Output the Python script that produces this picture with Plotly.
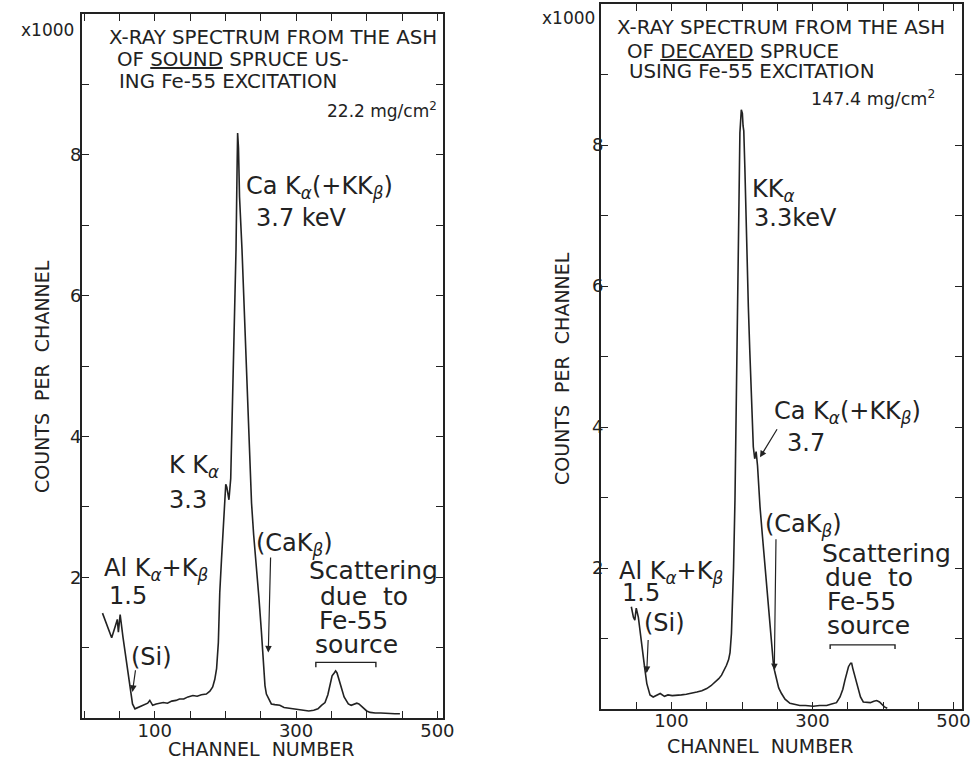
import plotly.graph_objects as go

# ---------------- data (counts in thousands) ----------------
ch_sound = [26, 33, 39, 44, 47, 48.5, 51, 55, 60, 65, 68.5, 72, 77, 80, 85, 90, 93, 97, 102, 107,
            112, 118, 124, 130, 135, 141, 147, 154, 160, 166, 173, 178, 182, 185, 187.5, 190, 192,
            194.5, 197, 199, 200.5, 202, 203.5, 205, 207.5, 211, 213, 215, 216.5, 217.3, 218.5,
            220, 223.5, 227, 231, 234, 237, 240, 244, 247.5, 251, 254, 256, 258, 261, 265, 270,
            277, 283, 290, 297, 304, 311, 318, 325, 331, 336, 341, 345, 348, 351, 354, 356, 358,
            360, 362, 365, 368, 371, 374, 378, 382, 386, 389, 392, 396, 400, 405, 412, 420, 430,
            440, 447]
cnt_sound = [1.49, 1.30, 1.14, 1.30, 1.40, 1.22, 1.47, 1.15, 0.80, 0.43, 0.20, 0.13, 0.15, 0.17,
             0.18, 0.21, 0.25, 0.18, 0.20, 0.21, 0.22, 0.21, 0.24, 0.25, 0.27, 0.27, 0.30, 0.32,
             0.31, 0.33, 0.34, 0.38, 0.44, 0.55, 0.70, 1.07, 1.78, 2.26, 2.75, 3.05, 3.32, 3.28,
             3.18, 3.10, 3.40, 4.80, 5.70, 6.65, 7.80, 8.31, 8.10, 7.40, 6.65, 5.70, 4.77, 3.85,
             3.05, 2.60, 2.16, 1.70, 1.22, 0.75, 0.46, 0.34, 0.27, 0.20, 0.19, 0.18, 0.15, 0.14,
             0.12, 0.11, 0.10, 0.10, 0.11, 0.13, 0.18, 0.22, 0.33, 0.45, 0.60, 0.64, 0.67, 0.64,
             0.58, 0.50, 0.40, 0.30, 0.24, 0.20, 0.18, 0.19, 0.21, 0.20, 0.17, 0.14, 0.10, 0.08,
             0.07, 0.07, 0.06, 0.06, 0.06]

ch_decay = [43, 46, 48, 50, 53, 57, 62, 65, 69.5, 74, 79, 84, 90, 95, 101, 107, 114, 121, 128,
            136, 143, 150, 156, 162, 167, 171, 175, 178, 181, 183, 185, 188, 190, 192.5, 195,
            197, 199, 200.5, 201.5, 202.5, 204, 206.6, 209, 211, 214, 216, 218, 220, 222, 224,
            225.5, 229, 232.6, 236, 240, 243, 244.4, 246, 249, 252, 256, 261, 268, 275, 282, 290,
            301, 310, 320, 327, 334, 339, 343, 346, 349, 351, 354, 355.5, 357, 359, 362, 365, 368,
            372, 377, 382, 387, 391, 395, 398, 402, 406]
cnt_decay = [1.45, 1.30, 1.26, 1.43, 1.30, 0.95, 0.58, 0.36, 0.20, 0.17, 0.19, 0.22, 0.18, 0.20,
             0.19, 0.19, 0.20, 0.21, 0.22, 0.24, 0.26, 0.29, 0.33, 0.38, 0.43, 0.48, 0.55, 0.62,
             0.70, 0.80, 1.07, 2.00, 2.96, 4.62, 6.50, 8.17, 8.50, 8.45, 8.27, 8.20, 7.69, 6.51,
             5.70, 5.09, 4.20, 3.72, 3.55, 3.65, 3.45, 3.10, 2.87, 2.45, 2.02, 1.55, 1.07, 0.75,
             0.65, 0.55, 0.41, 0.30, 0.22, 0.14, 0.08, 0.06, 0.05, 0.05, 0.04, 0.05, 0.05, 0.07,
             0.09, 0.17, 0.28, 0.41, 0.52, 0.60, 0.65, 0.65, 0.58, 0.50, 0.38, 0.27, 0.17, 0.10,
             0.09, 0.09, 0.11, 0.12, 0.10, 0.07, 0.03, 0.01]

x_tickvals = list(range(0, 501, 50))
x_ticktext = ["100" if v == 100 else "300" if v == 300 else "500" if v == 500 else "" for v in x_tickvals]
y_tickvals = list(range(0, 11))
y_ticktext = [str(v) if v in (2, 4, 6, 8) else "" for v in y_tickvals]

FONT = "DejaVu Sans"
INK = "#222222"
W, H = 971, 761

fig = go.Figure()
fig.add_trace(go.Scatter(x=ch_sound, y=cnt_sound, mode="lines", xaxis="x", yaxis="y",
                         line=dict(color=INK, width=1.6), showlegend=False, hoverinfo="skip"))
fig.add_trace(go.Scatter(x=ch_decay, y=cnt_decay, mode="lines", xaxis="x2", yaxis="y2",
                         line=dict(color=INK, width=1.6), showlegend=False, hoverinfo="skip"))


def px2paper_x(px):
    return px / W


def px2paper_y(py):
    return 1 - py / H


axis_common = dict(showline=True, linecolor=INK, linewidth=1.8, mirror="ticks", ticks="inside",
                   ticklen=7, tickwidth=1.3, tickcolor=INK, showgrid=False, zeroline=False,
                   automargin=False,
                   tickfont=dict(family=FONT, size=18, color=INK), fixedrange=True)

fig.update_layout(
    width=W, height=H, margin=dict(l=0, r=0, t=0, b=0, autoexpand=False),
    paper_bgcolor="white", plot_bgcolor="white",
    xaxis=dict(domain=[px2paper_x(82), px2paper_x(443)], range=[-3, 508], anchor="y",
               tickmode="array", tickvals=x_tickvals, ticktext=x_ticktext,
               ticklabelstandoff=-5, **axis_common),
    yaxis=dict(domain=[px2paper_y(718), px2paper_y(14)], range=[0, 10], anchor="x",
               tickmode="array", tickvals=y_tickvals, ticktext=y_ticktext,
               ticklabelstandoff=-5, **axis_common),
    xaxis2=dict(domain=[px2paper_x(601), px2paper_x(962)], range=[0, 512], anchor="y2",
                tickmode="array", tickvals=x_tickvals, ticktext=x_ticktext,
                ticklabelstandoff=-6, **axis_common),
    yaxis2=dict(domain=[px2paper_y(709), px2paper_y(4)], range=[0, 10], anchor="x2",
                tickmode="array", tickvals=y_tickvals, ticktext=y_ticktext,
                ticklabelstandoff=-8, **axis_common),
)

anns = []


def txt(text, x, y, xr, yr, size, xanchor="left", angle=0):
    anns.append(dict(text=text, x=x, y=y, xref=xr, yref=yr, xanchor=xanchor, yanchor="middle",
                     showarrow=False, textangle=angle,
                     font=dict(family=FONT, size=size, color=INK)))


def arrow(xh, yh, xt, yt, xr, yr):
    anns.append(dict(text="", x=xh, y=yh, ax=xt, ay=yt, xref=xr, yref=yr, axref=xr, ayref=yr,
                     showarrow=True, arrowhead=2, arrowsize=1.1, arrowwidth=1.2, arrowcolor=INK))


Ka = "K<sub><i>α</i></sub>"
Kb = "K<sub><i>β</i></sub>"
TS = 19.8   # title lines
LS = 24     # peak labels
SS = 25     # scattering block

# ----- left panel (sound spruce) -----
txt("X-RAY SPECTRUM FROM THE ASH", 33, 9.67, "x", "y", TS)
txt("OF <u>SOUND</u> SPRUCE US-", 43, 9.35, "x", "y", TS)
txt("ING Fe-55 EXCITATION", 46, 9.04, "x", "y", TS)
txt("22.2 mg/cm<sup>2</sup>", 503, 8.64, "x", "y", 17, xanchor="right")
txt("Ca " + Ka + "(+K" + Kb + ")", 227, 7.53, "x", "y", LS)
txt("3.7 keV", 241, 7.10, "x", "y", LS)
txt("K " + Ka, 118, 3.57, "x", "y", LS)
txt("3.3", 118, 3.10, "x", "y", LS)
txt("(Ca" + Kb + ")", 241, 2.47, "x", "y", LS)
arrow(260.7, 0.93, 264, 2.30, "x", "y")
txt("Scattering", 316, 2.09, "x", "y", SS)
txt("due  to", 331, 1.73, "x", "y", SS)
txt("Fe-55", 330, 1.38, "x", "y", SS)
txt("source", 324, 1.05, "x", "y", SS)
txt("Al " + Ka + "+" + Kb, 26, 2.11, "x", "y", LS)
txt("1.5", 32, 1.73, "x", "y", LS)
txt("(Si)", 64, 0.87, "x", "y", LS)
arrow(68.4, 0.37, 73, 0.70, "x", "y")

# ----- right panel (decayed spruce) -----
txt("X-RAY SPECTRUM FROM THE ASH", 20, 9.66, "x2", "y2", TS)
txt("OF <u>DECAYED</u> SPRUCE", 34, 9.32, "x2", "y2", TS)
txt("USING Fe-55 EXCITATION", 37, 9.04, "x2", "y2", TS)
txt("147.4 mg/cm<sup>2</sup>", 476, 8.67, "x2", "y2", 17.5, xanchor="right")
txt("K" + Ka, 211, 7.36, "x2", "y2", LS)
txt("3.3keV", 214, 6.96, "x2", "y2", LS)
txt("Ca " + Ka + "(+K" + Kb + ")", 242, 4.20, "x2", "y2", LS)
txt("3.7", 261, 3.77, "x2", "y2", LS)
arrow(225.5, 3.57, 251, 3.99, "x2", "y2")
txt("(Ca" + Kb + ")", 230, 2.61, "x2", "y2", LS)
arrow(245.8, 0.55, 248.2, 2.43, "x2", "y2")
txt("Scattering", 310, 2.21, "x2", "y2", SS)
txt("due  to", 315, 1.86, "x2", "y2", SS)
txt("Fe-55", 318, 1.52, "x2", "y2", SS)
txt("source", 318, 1.19, "x2", "y2", SS)
txt("Al " + Ka + "+" + Kb, 23, 1.94, "x2", "y2", LS)
txt("1.5", 27, 1.65, "x2", "y2", LS)
txt("(Si)", 58, 1.22, "x2", "y2", LS)
arrow(64.8, 0.51, 67, 1.0, "x2", "y2")

# ----- axis titles & multipliers (paper) -----
txt("COUNTS  PER  CHANNEL", px2paper_x(42), px2paper_y(377), "paper", "paper", 19, xanchor="center", angle=-90)
txt("COUNTS  PER  CHANNEL", px2paper_x(562), px2paper_y(369), "paper", "paper", 19, xanchor="center", angle=-90)
txt("CHANNEL  NUMBER", px2paper_x(261), px2paper_y(749), "paper", "paper", 19, xanchor="center")
txt("CHANNEL  NUMBER", px2paper_x(760), px2paper_y(746), "paper", "paper", 19, xanchor="center")
txt("x1000", px2paper_x(76), px2paper_y(30), "paper", "paper", 17, xanchor="right")
txt("x1000", px2paper_x(597), px2paper_y(18), "paper", "paper", 17, xanchor="right")

fig.update_layout(annotations=anns)

# brackets under "source"
fig.add_shape(type="path", path="M 328,0.72 L 328,0.79 L 413,0.79 L 413,0.72", xref="x", yref="y",
              line=dict(color=INK, width=1.4))
fig.add_shape(type="path", path="M 325,0.85 L 325,0.91 L 417,0.91 L 417,0.85", xref="x2", yref="y2",
              line=dict(color=INK, width=1.4))

fig.write_html("out.html", config={"displayModeBar": False},
               post_script="document.body.style.margin='0px';document.body.style.padding='0px';"
                           "document.body.style.overflow='hidden';")
